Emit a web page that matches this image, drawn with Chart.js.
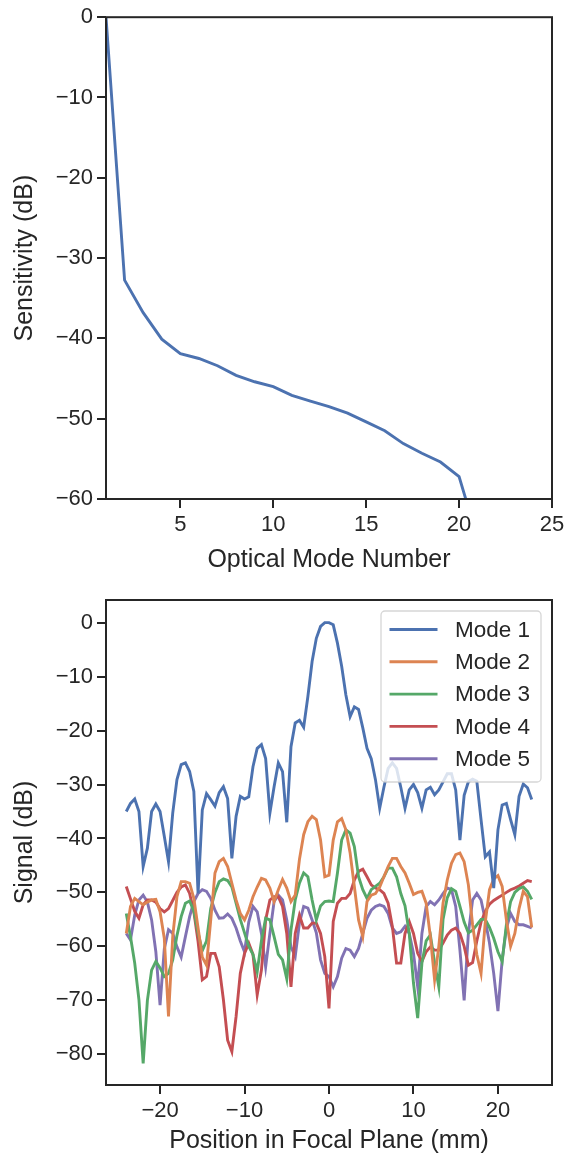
<!DOCTYPE html>
<html>
<head>
<meta charset="utf-8">
<script src="https://cdn.jsdelivr.net/npm/chart.js@4.4.1/dist/chart.umd.min.js"></script>
<style>
  html, body { margin: 0; padding: 0; background: #fff; }
  #wrap { position: relative; width: 574px; height: 1156px; }
  canvas { position: absolute; left: 0; }
</style>
</head>
<body>
<div id="wrap">
  <canvas id="sensChart" width="574" height="580" style="top:0"></canvas>
  <canvas id="signalChart" width="574" height="576" style="top:580px"></canvas>
</div>
<script>
// ---- top panel: sensitivity vs optical mode number
const modeNumbers = [1, 2, 3, 4, 5, 6, 7, 8, 9, 10, 11, 12, 13, 14, 15, 16, 17, 18, 19, 20, 21];
const sensitivity = [0, -32.75, -36.8, -40.1, -41.9, -42.5, -43.4, -44.6, -45.4, -46.0, -47.1,
  -47.8, -48.5, -49.3, -50.4, -51.5, -53.1, -54.3, -55.4, -57.2, -65.0];
const sensXTicks = [5, 10, 15, 20, 25];
const sensYTicks = [0, -10, -20, -30, -40, -50, -60];

// ---- bottom panel: signal vs position in focal plane
const positions = [-24, -23.5, -23, -22.5, -22, -21.5, -21, -20.5, -20, -19.5, -19, -18.5, -18, -17.5,
  -17, -16.5, -16, -15.5, -15, -14.5, -14, -13.5, -13, -12.5, -12, -11.5, -11, -10.5, -10, -9.5,
  -9, -8.5, -8, -7.5, -7, -6.5, -6, -5.5, -5, -4.5, -4, -3.5, -3, -2.5, -2, -1.5, -1, -0.5,
  0, 0.5, 1, 1.5, 2, 2.5, 3, 3.5, 4, 4.5, 5, 5.5, 6, 6.5, 7, 7.5, 8, 8.5, 9, 9.5, 10, 10.5,
  11, 11.5, 12, 12.5, 13, 13.5, 14, 14.5, 15, 15.5, 16, 16.5, 17, 17.5, 18, 18.5, 19, 19.5,
  20, 20.5, 21, 21.5, 22, 22.5, 23, 23.5, 24];

const mode1 = [-35.0, -33.5, -32.7, -35.0, -45.2, -41.8, -35.0, -33.6, -35.0, -39.6, -44.3, -35.3, -29.1, -26.3,
  -26.0, -27.6, -31.3, -50.2, -34.7, -31.7, -32.8, -34.0, -31.5, -30.4, -32.6, -43.7, -35.9, -32.2, -32.7, -32.3,
  -26.7, -23.3, -22.6, -25.2, -35.3, -30.4, -26.0, -27.6, -37.0, -23.0, -18.6, -18.1, -19.4, -13.7, -7.2, -2.9, -0.7, 0,
  0, -0.4, -3.8, -8.1, -13.4, -17.4, -15.6, -16.1, -19.5, -23.3, -25.2, -29.1, -34.4, -30.5, -27.0, -26.0, -27.0, -30.5, -34.4, -31.0, -30.0, -31.5,
  -34.4, -31.0, -30.5, -31.9, -31.0, -29.5, -28.0, -28.0, -31.0, -40.3, -32.0, -29.5, -29.0, -29.4, -36.5, -43.4, -42.5, -49.2,
  -38.4, -33.8, -33.5, -36.5, -39.3, -32.2, -29.9, -30.6, -32.8];

const mode2 = [-57.6, -52.6, -51.1, -51.7, -52.3, -51.8, -51.4, -51.3, -53.6, -58.5, -73.0, -58.2, -50.8, -48.0,
  -48.0, -48.3, -51.1, -56.6, -62.0, -63.5, -55.1, -46.4, -44.3, -43.7, -45.2, -48.3, -51.4, -53.9, -55.1, -53.3,
  -50.8, -49.0, -47.4, -47.7, -49.2, -51.7, -49.5, -47.6, -49.2, -51.7, -50.5, -43.9, -39.3, -36.9, -35.9, -36.5, -40.3, -47.1,
  -46.8, -40.3, -36.9, -36.3, -38.4, -42.7, -48.9, -55.1, -58.2, -51.7, -50.5, -50.2, -49.0, -47.1, -45.2, -43.7, -43.7, -45.2, -46.4, -48.3, -50.4, -50.0,
  -49.8, -52.0, -58.2, -66.2, -60.0, -52.0, -47.7, -44.6, -43.0, -42.7, -44.3, -48.6, -56.0, -61.5, -65.0, -55.5, -49.5, -47.5,
  -46.9, -48.9, -55.1, -60.0, -57.6, -53.0, -49.8, -50.8, -56.5];

const mode3 = [-53.9, -58.2, -63.1, -69.9, -81.7, -70.0, -64.4, -62.8, -64.0, -65.6, -65.0, -62.5, -58.0, -54.5,
  -52.0, -51.6, -53.5, -57.5, -60.8, -59.0, -53.0, -50.0, -48.0, -47.5, -47.8, -49.0, -52.0, -55.0, -57.5, -60.0,
  -61.5, -64.7, -59.0, -54.8, -55.1, -58.2, -61.5, -62.5, -66.0, -57.0, -51.4, -48.3, -46.4, -47.1, -51.4, -55.1, -52.5, -51.7,
  -51.6, -51.7, -46.4, -40.3, -38.4, -39.0, -41.5, -47.1, -49.5, -51.1, -49.5, -48.9, -48.3, -47.1, -45.5, -45.5, -47.1, -50.2, -52.5, -57.6, -66.8, -73.3,
  -63.1, -59.0, -57.9, -63.0, -67.5, -55.0, -51.0, -49.3, -49.8, -52.6, -55.5, -57.5, -57.0, -56.0, -55.0, -55.0, -56.5, -58.5,
  -61.0, -62.8, -56.0, -51.7, -50.0, -49.3, -49.0, -49.8, -51.3];

const mode4 = [-48.9, -51.2, -53.5, -54.8, -52.3, -51.4, -51.4, -51.8, -53.0, -53.6, -53.0, -51.5, -50.0, -49.0,
  -48.6, -50.2, -53.6, -59.1, -66.2, -65.6, -61.3, -61.3, -63.8, -69.9, -77.4, -79.5, -73.0, -65.0, -61.3, -59.4,
  -61.5, -69.0, -64.4, -55.1, -51.4, -50.8, -50.8, -52.6, -57.6, -67.5, -57.6, -54.2, -56.6, -56.6, -55.7, -55.7, -57.6, -61.9,
  -71.5, -55.4, -52.0, -51.1, -51.1, -50.2, -47.7, -46.1, -45.7, -47.1, -48.6, -49.2, -49.5, -50.2, -52.0, -56.3, -63.1, -63.1, -57.6, -55.4, -57.6, -61.3,
  -62.8, -61.0, -60.1, -60.7, -60.7, -59.4, -57.9, -57.0, -56.6, -57.6, -60.0, -63.5, -63.0, -59.0, -55.5, -53.5, -52.2, -51.5,
  -51.0, -50.5, -50.0, -49.5, -49.2, -48.8, -48.3, -47.8, -48.0];

const mode5 = [-57.6, -58.8, -54.2, -51.4, -50.5, -51.8, -55.1, -61.0, -70.9, -60.5, -56.9, -57.6, -60.1, -62.0,
  -58.2, -54.5, -51.7, -50.2, -49.5, -49.8, -51.1, -53.3, -54.8, -54.7, -54.0, -54.8, -56.6, -59.0, -61.0, -55.5,
  -52.6, -53.6, -57.6, -63.8, -57.6, -51.7, -50.5, -51.4, -55.1, -60.1, -61.9, -55.7, -52.6, -52.9, -55.1, -57.5, -62.5, -65.0,
  -65.6, -67.5, -65.6, -62.2, -60.4, -60.7, -61.9, -60.4, -57.6, -54.8, -53.3, -52.6, -52.3, -52.6, -53.9, -56.6, -57.6, -57.3, -56.3, -57.6, -61.3, -67.5,
  -57.6, -52.6, -51.7, -52.3, -51.4, -50.2, -49.2, -49.5, -52.6, -60.7, -70.0, -57.6, -51.4, -50.2, -51.4, -55.1, -59.4, -65.0,
  -72.0, -62.5, -56.7, -53.9, -55.4, -56.0, -56.0, -56.3, -56.6];

const modeNames = ['Mode 1', 'Mode 2', 'Mode 3', 'Mode 4', 'Mode 5'];
const modeSeries = [mode1, mode2, mode3, mode4, mode5];
const signalXTicks = [-20, -10, 0, 10, 20];
const signalYTicks = [0, -10, -20, -30, -40, -50, -60, -70, -80];

// seaborn "deep" palette
const palette = ['#4c72b0', '#dd8452', '#55a868', '#c44e52', '#8172b3'];
const INK = '#262626';

Chart.defaults.font.family = '"Liberation Sans", Arial, sans-serif';
Chart.defaults.color = INK;
Chart.defaults.animation = false;

const minus = v => String(v).replace('-', '\u2212');

// box around the plotting area (matplotlib spines)
const framePlugin = {
  id: 'frame',
  afterDatasetsDraw(chart) {
    const { ctx, chartArea: a } = chart;
    ctx.save();
    ctx.strokeStyle = INK;
    ctx.lineWidth = 2;
    ctx.strokeRect(a.left, a.top, a.right - a.left, a.bottom - a.top);
    ctx.restore();
  }
};

// legend drawn inside the upper right corner, like matplotlib's best location
const insideLegend = {
  id: 'insideLegend',
  afterDraw(chart) {
    const { ctx, chartArea: a } = chart;
    const w = 160, h = 171, rowH = 32.3;
    const x = a.right - 11 - w, y = a.top + 11;
    ctx.save();
    ctx.beginPath();
    ctx.roundRect(x, y, w, h, 4);
    ctx.fillStyle = 'rgba(255,255,255,0.8)';
    ctx.fill();
    ctx.strokeStyle = 'rgba(204,204,204,0.8)';
    ctx.lineWidth = 1.3;
    ctx.stroke();
    ctx.font = '22.5px "Liberation Sans", Arial, sans-serif';
    ctx.textBaseline = 'middle';
    chart.data.datasets.forEach((ds, i) => {
      const cy = y + 18.5 + i * rowH;
      ctx.beginPath();
      ctx.moveTo(x + 8.5, cy);
      ctx.lineTo(x + 56.5, cy);
      ctx.strokeStyle = ds.borderColor;
      ctx.lineWidth = 2.9;
      ctx.stroke();
      ctx.fillStyle = INK;
      ctx.fillText(ds.label, x + 74, cy + 1);
    });
    ctx.restore();
  }
};

function axis(opts) {
  return {
    type: 'linear',
    min: opts.min,
    max: opts.max,
    afterBuildTicks: s => { s.ticks = opts.ticks.map(v => ({ value: v })); },
    afterFit: s => { if (opts.width) s.width = opts.width; if (opts.height) s.height = opts.height; },
    grid: { drawOnChartArea: false, drawTicks: true, tickLength: 9, tickWidth: 2, tickColor: INK, color: INK, lineWidth: 2 },
    border: { display: false },
    ticks: { color: INK, font: { size: 22 }, padding: 4, maxRotation: 0, autoSkip: false, callback: minus },
    title: { display: true, text: opts.title, color: INK, font: { size: 25 }, padding: opts.titlePad }
  };
}

new Chart(document.getElementById('sensChart'), {
  type: 'line',
  data: {
    datasets: [{
      data: modeNumbers.map((m, i) => ({ x: m, y: sensitivity[i] })),
      borderColor: palette[0],
      borderWidth: 2.9,
      pointRadius: 0,
      tension: 0
    }]
  },
  options: {
    responsive: false,
    layout: { padding: { top: 15, right: 22, left: 0, bottom: 0 } },
    plugins: { legend: { display: false }, tooltip: { enabled: false } },
    scales: {
      x: axis({ min: 1, max: 25, ticks: sensXTicks, height: 81, title: 'Optical Mode Number', titlePad: { top: 0, bottom: 5 } }),
      y: axis({ min: -60, max: 0, ticks: sensYTicks, width: 106, title: 'Sensitivity (dB)', titlePad: { top: 10, bottom: 0 } })
    }
  },
  plugins: [framePlugin]
});

new Chart(document.getElementById('signalChart'), {
  type: 'line',
  data: {
    datasets: modeSeries.map((vals, k) => ({
      label: modeNames[k],
      data: positions.map((p, i) => ({ x: p, y: vals[i] })),
      borderColor: palette[k],
      borderWidth: 2.9,
      pointRadius: 0,
      tension: 0
    }))
  },
  options: {
    responsive: false,
    layout: { padding: { top: 20, right: 22, left: 0, bottom: 0 } },
    plugins: { legend: { display: false }, tooltip: { enabled: false } },
    scales: {
      x: axis({ min: -26.4, max: 26.4, ticks: signalXTicks, height: 71, title: 'Position in Focal Plane (mm)', titlePad: { top: 0, bottom: 0 } }),
      y: axis({ min: -85.7, max: 4.2, ticks: signalYTicks, width: 106, title: 'Signal (dB)', titlePad: { top: 10, bottom: 0 } })
    }
  },
  plugins: [framePlugin, insideLegend]
});
</script>
</body>
</html>
